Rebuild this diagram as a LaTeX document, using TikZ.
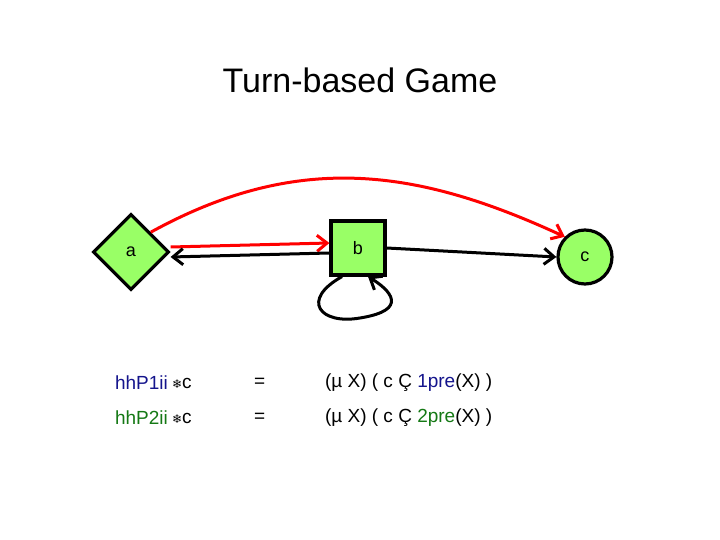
\documentclass[tikz,border=0pt]{standalone}
\usepackage{fontspec}
\setmainfont{Liberation Sans}
\newfontfamily\symfont{DejaVu Sans}
\usetikzlibrary{shapes.geometric, arrows.meta}
\definecolor{vgreen}{RGB}{153,255,102}
\definecolor{pblue}{RGB}{20,20,140}
\definecolor{pgreen}{RGB}{20,120,20}
\tikzset{state/.style={draw, line width=1.6pt, fill=vgreen, font=\fontsize{9}{11}\selectfont},
  move/.style={line width=1.5pt, -{Straight Barb[length=5pt,width=8pt]}},
  txt/.style={anchor=west, font=\fontsize{9.5}{11}\selectfont}}
\begin{document}
\begin{tikzpicture}[x=0.5pt,y=-0.5pt]
\useasboundingbox (0,0) rectangle (720,540);

%Title
\node (title) at (360,80) {\fontsize{17}{20}\selectfont Turn-based Game};

%States
\node [state, diamond, minimum size=38pt, inner sep=0pt] (a) at (131,252) {a};
\node [state, rectangle, minimum size=27pt] (b) at (358,248) {b};
\node [state, circle, minimum size=27pt] (c) at (585,257) {c};

%Moves
\draw [move, red] (a.north east) .. controls (300,150) and (420,170) .. (c.north west);
\draw [move, red] ([yshift=2.5pt]a.east) -- ([yshift=2.5pt]b.west);
\draw [move] ([yshift=-2.5pt]b.west) -- ([yshift=-2.5pt]a.east);
\draw [move] (b.east) -- (c.west);
\draw [move] ([xshift=-8pt]b.south) .. controls (300,300) and (320,325) .. (360,318)
  .. controls (410,310) and (390,290) .. ([xshift=5pt]b.south);

%Formulas
\node [txt, text=pblue] (p1) at (108,383) {hhP1ii};
\node [txt] (s1) at (165,383) {{\symfont\fontsize{6}{8}\selectfont ❄}c};
\node [txt] (e1) at (247,383) {=};
\node [txt] (f1) at (318,383) {(µ X) ( c Ç \textcolor{pblue}{1pre}(X) )};
\node [txt, text=pgreen] (p2) at (108,418) {hhP2ii};
\node [txt] (s2) at (165,418) {{\symfont\fontsize{6}{8}\selectfont ❄}c};
\node [txt] (e2) at (247,418) {=};
\node [txt] (f2) at (318,418) {(µ X) ( c Ç \textcolor{pgreen}{2pre}(X) )};
\end{tikzpicture}
\end{document}
